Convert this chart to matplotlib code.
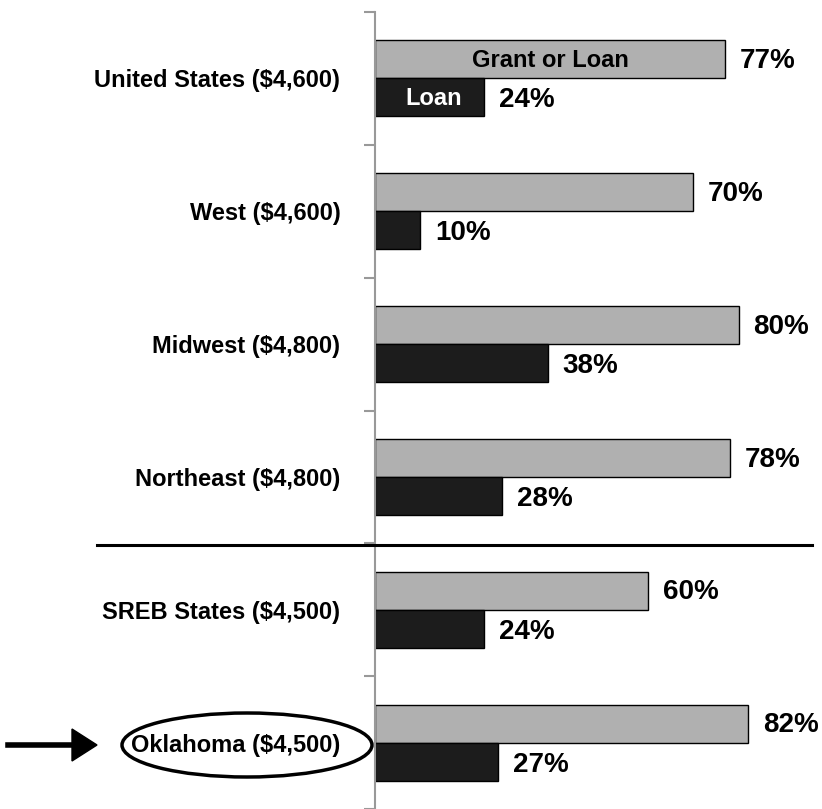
import matplotlib.pyplot as plt
from matplotlib.patches import Ellipse
import numpy as np

plt.rcParams['font.family'] = ['Liberation Sans', 'DejaVu Sans']
plt.rcParams['font.weight'] = 'bold'

regions = ["United States ($4,600)", "West ($4,600)", "Midwest ($4,800)",
           "Northeast ($4,800)", "SREB States ($4,500)", "Oklahoma ($4,500)"]
grant_or_loan = [77, 70, 80, 78, 60, 82]
loan = [24, 10, 38, 28, 24, 27]

fig = plt.figure(figsize=(8.22, 8.09), dpi=100)
ax = fig.add_axes([375 / 822, 0, 447 / 822, 797 / 809])

y = np.arange(len(regions))
h = 0.285
ax.barh(y - 0.143, grant_or_loan, height=h, color="#b0b0b0", edgecolor="black", linewidth=1)
ax.barh(y + 0.143, loan, height=h, color="#1c1c1c", edgecolor="black", linewidth=1)

for i in range(len(regions)):
    ax.text(grant_or_loan[i] + 3.3, y[i] - 0.13, f"{grant_or_loan[i]}%",
            va="center", ha="left", fontsize=20, fontweight="bold")
    ax.text(loan[i] + 3.3, y[i] + 0.165, f"{loan[i]}%",
            va="center", ha="left", fontsize=20, fontweight="bold")

ax.text(grant_or_loan[0] / 2, y[0] - 0.135, "Grant or Loan", ha="center", va="center",
        fontsize=17, fontweight="bold")
ax.text(loan[0] / 2 + 1, y[0] + 0.15, "Loan", ha="center", va="center",
        fontsize=17, fontweight="bold", color="white")

ax.set_xlim(0, 447 / 4.545)
ax.set_ylim(len(regions) - 0.5, -0.5)

for s in ["top", "right", "bottom"]:
    ax.spines[s].set_visible(False)
ax.spines["left"].set_color("#999999")
ax.spines["left"].set_linewidth(1.5)
ax.set_xticks([])

ax.set_yticks(np.arange(-0.5, len(regions), 1.0))
ax.set_yticklabels([])
ax.tick_params(axis="y", which="major", length=8, color="#999999", width=1.5)
ax.set_yticks(y, minor=True)
ax.set_yticklabels(regions, minor=True, fontsize=17, fontweight="bold")
ax.tick_params(axis="y", which="minor", length=0, pad=25)

# separator between regions and states
fig.add_artist(plt.Line2D([97 / 822, 812 / 822], [1 - 545 / 809, 1 - 545 / 809],
                          color="black", linewidth=2.2, transform=fig.transFigure))

# highlight Oklahoma
fig.add_artist(Ellipse((247 / 822, 1 - 745 / 809), 250 / 822, 64 / 809,
                       fill=False, edgecolor="black", linewidth=2.5,
                       transform=fig.transFigure))
fig.add_artist(plt.Line2D([8 / 822, 75 / 822], [1 - 745 / 809, 1 - 745 / 809],
                          color="black", linewidth=4, transform=fig.transFigure))
fig.patches.append(plt.Polygon([[72 / 822, 1 - 729 / 809], [97 / 822, 1 - 745 / 809],
                                [72 / 822, 1 - 761 / 809]], closed=True, color="black",
                               transform=fig.transFigure))

fig.savefig("out.png", dpi=100)
